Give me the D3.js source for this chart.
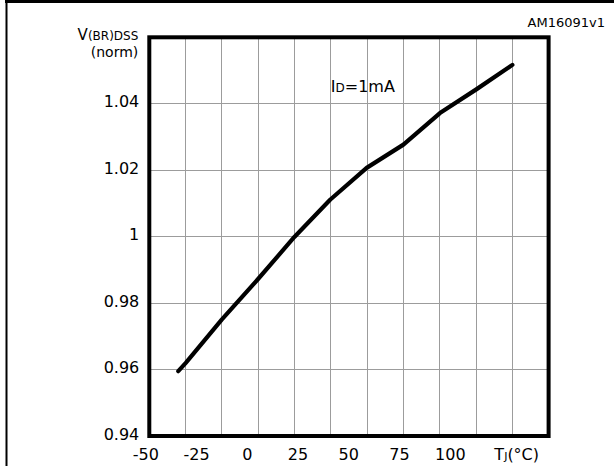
<!DOCTYPE html>
<meta charset="utf-8">
<html>
  <head>
    <title>V(BR)DSS vs temperature</title>
    <script src="https://d3js.org/d3.v7.min.js"></script>
    <style type="text/css">
      body{
        margin: 0;
        background: #fff;
        font-family: "DejaVu Sans", sans-serif;
      }
      .grid line{
        stroke: #9c9c9c;
        stroke-width: 1;
        shape-rendering: crispEdges;
      }
      .tick-label{
        font-size: 16px;
        fill: #000;
      }
    </style>
  </head>
  <body>
    <div id="plot"></div>
  </body>

  <script>
    // data
    var temps = [-34, -30.3, -12.6, 5.1, 23.2, 40.8, 58.8, 76.9, 94.9, 113, 130.6];
    var vNorm = [0.9595, 0.962, 0.975, 0.9871, 0.9999, 1.0111, 1.0207, 1.0277, 1.0372, 1.0444, 1.0517];
    var xTicks = [-50, -25, 0, 25, 50, 75, 100];
    var yTicks = [0.94, 0.96, 0.98, 1, 1.02, 1.04];
    var yGrid = [0.96, 0.98, 1, 1.02, 1.04];
    var nCols = 11;

    var margin = {top:37.3, left:149.3},
        width = 399.3,
        height = 398.7;

    var root = d3.select("#plot").append("svg")
        .attr("width", 614)
        .attr("height", 466);

    // outer cell borders
    root.append("line")
        .attr("x1", 5).attr("x2", 614)
        .attr("y1", 1.5).attr("y2", 1.5)
        .style("stroke", "#000").style("stroke-width", 3);
    root.append("line")
        .attr("x1", 6.5).attr("x2", 6.5)
        .attr("y1", 0).attr("y2", 466)
        .style("stroke", "#000").style("stroke-width", 2);

    root.append("text")
        .attr("x", 605)
        .attr("y", 27)
        .style("font-size", "13px")
        .style("text-anchor", "end")
        .text("AM16091v1");

    var svg = root.append("g")
        .attr("transform", "translate(" + margin.left + "," + margin.top + ")");

    // scales
    var tScale = d3.scaleLinear()
        .domain([-50, 100])
        .range([-3.5, 301]);
    var colScale = d3.scaleLinear()
        .domain([0, nCols])
        .range([0, width]);
    var yScale = d3.scaleLinear()
        .domain([0.94, 1.06])
        .range([height, 0]);

    // grid
    svg.append("g")
       .attr("class", "grid")
       .selectAll("line")
       .data(d3.range(1, nCols))
       .enter().append("line")
       .attr("x1", function(d){return colScale(d);})
       .attr("x2", function(d){return colScale(d);})
       .attr("y1", 0)
       .attr("y2", height);

    svg.append("g")
       .attr("class", "grid")
       .selectAll("line")
       .data(yGrid)
       .enter().append("line")
       .attr("x1", 0)
       .attr("x2", width)
       .attr("y1", function(d){return yScale(d);})
       .attr("y2", function(d){return yScale(d);});

    // curve
    var pts = temps.map(function(t, i){ return [t, vNorm[i]]; });
    var line = d3.line()
        .x(function(d){return tScale(d[0]);})
        .y(function(d){return yScale(d[1]);});

    svg.append("path")
       .datum(pts)
       .attr("d", line)
       .style("fill", "none")
       .style("stroke", "#000")
       .style("stroke-width", 4.2)
       .style("stroke-linecap", "round")
       .style("stroke-linejoin", "round");

    // frame
    svg.append("rect")
       .attr("x", 0)
       .attr("y", 0)
       .attr("width", width)
       .attr("height", height)
       .style("fill", "none")
       .style("stroke", "#000")
       .style("stroke-width", 4);

    // y tick labels
    svg.selectAll(".ylab")
       .data(yTicks)
       .enter().append("text")
       .attr("class", "tick-label")
       .attr("x", -10)
       .attr("y", function(d){return yScale(d) - 2;})
       .attr("dy", ".35em")
       .style("text-anchor", "end")
       .text(function(d){return d3.format("")(d);});

    // x tick labels
    svg.selectAll(".xlab")
       .data(xTicks)
       .enter().append("text")
       .attr("class", "tick-label")
       .attr("x", function(d){return tScale(d);})
       .attr("y", height + 24)
       .style("text-anchor", "middle")
       .text(function(d){return d;});

    // x axis title
    var xt = svg.append("text")
       .attr("class", "tick-label")
       .attr("x", 367.4)
       .attr("y", height + 24)
       .style("text-anchor", "middle");
    xt.append("tspan").text("T");
    xt.append("tspan").style("font-size", "11px").text("J");
    xt.append("tspan").text("(°C)");

    // y axis title
    var yt = svg.append("text")
       .attr("x", -11)
       .attr("y", 2.5)
       .style("text-anchor", "end")
       .style("font-size", "15px");
    yt.append("tspan").text("V");
    yt.append("tspan").style("font-size", "12px").text("(BR)DSS");
    svg.append("text")
       .attr("x", -11)
       .attr("y", 20)
       .style("text-anchor", "end")
       .style("font-size", "14px")
       .text("(norm)");

    // condition label
    var cond = svg.append("text")
       .attr("x", 181.5)
       .attr("y", 55)
       .style("font-size", "16px");
    cond.append("tspan").text("I");
    cond.append("tspan").style("font-size", "12px").text("D");
    cond.append("tspan").text("=1mA");
  </script>
</html>
